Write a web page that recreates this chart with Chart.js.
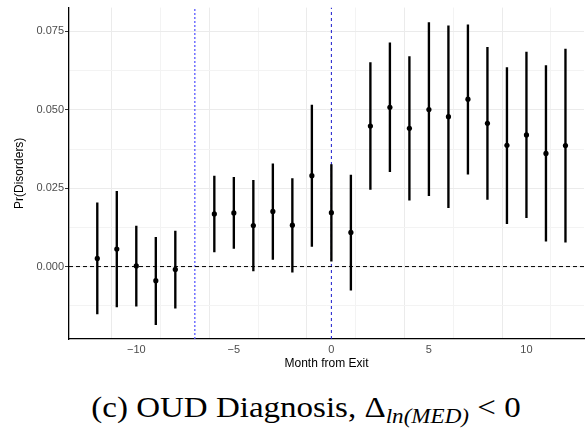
<!DOCTYPE html>
<html>
<head>
<meta charset="utf-8">
<script src="https://cdn.jsdelivr.net/npm/chart.js@4.4.1/dist/chart.umd.min.js"></script>
<style>
  body { margin: 0; background: #fff; }
  #wrap { position: relative; width: 588px; height: 429px; overflow: hidden; }
  #chart { position: absolute; left: 0; top: 0; }
  #caption {
    position: absolute; left: 12px; width: 588px; top: 392px; line-height: 30px;
    text-align: center; font-family: "Liberation Serif", "DejaVu Serif", serif;
    font-size: 30px; color: #000; white-space: nowrap;
    transform: scaleX(1.1); transform-origin: 294px 0;
  }
  #caption sub { font-style: italic; font-size: 21px; vertical-align: -6px; line-height: 0; }
</style>
</head>
<body>
<div id="wrap">
  <canvas id="chart" width="588" height="375"></canvas>
  <div id="caption">(c) OUD Diagnosis, &Delta;<sub>ln(MED)</sub> &lt; 0</div>
</div>
<script>
// months relative to exit (-7 is omitted, it is the reference month)
const months = [-12, -11, -10, -9, -8, -6, -5, -4, -3, -2, -1, 0, 1, 2, 3, 4, 5, 6, 7, 8, 9, 10, 11, 12];
const estimate = [0.0026, 0.0056, 0.0002, -0.0045, -0.0009, 0.0168, 0.0171, 0.0131, 0.0176, 0.0132, 0.0290, 0.0172,
                  0.0109, 0.0448, 0.0508, 0.0441, 0.0501, 0.0478, 0.0534, 0.0457, 0.0387, 0.0420, 0.0361, 0.0386];
const lower = [-0.0151, -0.0129, -0.0126, -0.0185, -0.0133, 0.0047, 0.0058, -0.0014, 0.0023, -0.0018, 0.0064, 0.0017,
               -0.0075, 0.0246, 0.0303, 0.0212, 0.0226, 0.0188, 0.0295, 0.0214, 0.0137, 0.0156, 0.0081, 0.0078];
const upper = [0.0203, 0.0240, 0.0129, 0.0093, 0.0113, 0.0289, 0.0285, 0.0275, 0.0328, 0.0281, 0.0515, 0.0325,
               0.0292, 0.0651, 0.0714, 0.0670, 0.0778, 0.0768, 0.0771, 0.0699, 0.0635, 0.0684, 0.0641, 0.0694];

const xTicks = [-12.5, -10, -7.5, -5, -2.5, 0, 2.5, 5, 7.5, 10, 12.5];
const yTicks = [-0.0125, 0, 0.0125, 0.025, 0.0375, 0.05, 0.0625, 0.075];
const xMin = -13.45, xMax = 12.95;
const yMin = -0.0231, yMax = 0.0826;
const refMonth = -7;
const exitMonth = 0;

const isMajor = (v, step) => Math.abs(v / step - Math.round(v / step)) < 1e-6;
const tickVal = c => (c.tick ? c.tick.value : NaN);

const points = months.map((m, i) => ({ x: m, y: estimate[i] }));
const bars = months.map((m, i) => ({ x: m, y: [lower[i], upper[i]] }));

new Chart(document.getElementById('chart'), {
  data: {
    datasets: [
      {
        type: 'scatter',
        data: points,
        backgroundColor: '#000',
        borderWidth: 0,
        pointRadius: 2.6,
        order: 0
      },
      {
        type: 'bar',
        data: bars,
        backgroundColor: '#000',
        barThickness: 1.7,
        grouped: false,
        order: 1
      },
      {
        type: 'line',
        data: [{ x: xMin, y: 0 }, { x: xMax, y: 0 }],
        borderColor: '#000',
        borderWidth: 1,
        borderDash: [4, 3],
        pointRadius: 0,
        order: 2
      },
      {
        type: 'line',
        data: [{ x: refMonth, y: yMin }, { x: refMonth, y: yMax }],
        borderColor: '#5a5aff',
        borderWidth: 1.3,
        borderDash: [2, 2],
        pointRadius: 0,
        order: 2
      },
      {
        type: 'line',
        data: [{ x: exitMonth, y: yMin }, { x: exitMonth, y: yMax }],
        borderColor: '#1a1acc',
        borderWidth: 1,
        borderDash: [3, 3],
        pointRadius: 0,
        order: 2
      }
    ]
  },
  options: {
    responsive: false,
    animation: false,
    layout: { padding: { top: 5, left: 0, right: 0, bottom: 0 } },
    plugins: { legend: { display: false }, tooltip: { enabled: false } },
    scales: {
      x: {
        type: 'linear',
        min: xMin,
        max: xMax,
        offset: false,
        afterBuildTicks: s => { s.ticks = xTicks.map(v => ({ value: v })); },
        afterFit: s => { s.height = 36; },
        border: { display: true, color: '#000', width: 1.3 },
        grid: {
          color: c => isMajor(tickVal(c), 5) ? '#ebebeb' : '#f3f3f3',
          drawTicks: false
        },
        ticks: {
          autoSkip: false,
          maxRotation: 0,
          padding: 4,
          color: '#4d4d4d',
          font: { family: 'Liberation Sans', size: 11 },
          callback: v => isMajor(v, 5) ? String(v).replace('-', '\u2212') : ''
        },
        title: {
          display: true,
          text: 'Month from Exit',
          color: '#000',
          font: { family: 'Liberation Sans', size: 12 },
          padding: { top: 0, bottom: 4 }
        }
      },
      y: {
        type: 'linear',
        min: yMin,
        max: yMax,
        afterBuildTicks: s => { s.ticks = yTicks.map(v => ({ value: v })); },
        afterFit: s => { s.width = 69; },
        border: { display: true, color: '#000', width: 1.3 },
        grid: {
          color: c => isMajor(tickVal(c), 0.025) ? '#ebebeb' : '#f3f3f3',
          tickColor: c => isMajor(tickVal(c), 0.025) ? '#333' : 'rgba(0,0,0,0)',
          tickLength: 4
        },
        ticks: {
          padding: 1,
          color: '#4d4d4d',
          font: { family: 'Liberation Sans', size: 11 },
          callback: v => isMajor(v, 0.025) ? v.toFixed(3) : ''
        },
        title: {
          display: true,
          text: 'Pr(Disorders)',
          color: '#000',
          font: { family: 'Liberation Sans', size: 12 },
          padding: { top: 12, bottom: 0 }
        }
      }
    }
  }
});
</script>
</body>
</html>
